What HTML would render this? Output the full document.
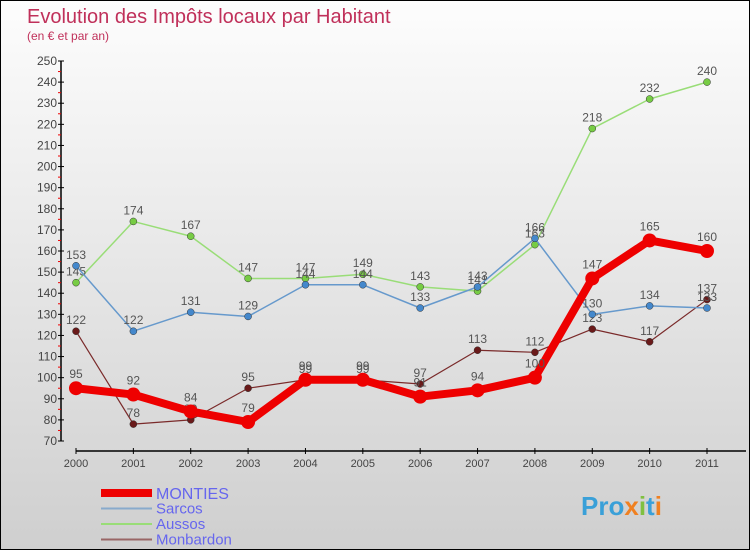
<!DOCTYPE html>
<html><head><meta charset="utf-8"><style>
body{margin:0;width:750px;height:550px;overflow:hidden;font-family:"Liberation Sans",sans-serif}
#wrap{position:relative;width:748px;height:548px;border:1px solid #000;background:linear-gradient(#fdfdfd,#cfcfcf)}
</style></head><body>
<div id="wrap">
<svg id="chart" width="748" height="548">
<text x="26" y="22" font-size="20" fill="#c0305a">Evolution des Impôts locaux par Habitant</text>
<text x="26" y="39" font-size="12" fill="#c0305a">(en € et par an)</text>
<g id="axes"></g><g id="series"></g>
<text x="580" y="514" font-size="26" font-weight="bold" fill="#3aa0d8">Pro<tspan fill="#f08020">x</tspan><tspan fill="#80c040">i</tspan>t<tspan fill="#f08020">i</tspan></text>
</svg>
</div>
<script>
const years=[2000,2001,2002,2003,2004,2005,2006,2007,2008,2009,2010,2011];
const monties=[95,92,84,79,99,99,91,94,100,147,165,160];
const sarcos=[153,122,131,129,144,144,133,143,166,130,134,133];
const aussos=[145,174,167,147,147,149,143,141,163,218,232,240];
const monbardon=[122,78,80,95,99,99,97,113,112,123,117,137];
const yTicks=[70,80,90,100,110,120,130,140,150,160,170,180,190,200,210,220,230,240,250];
const NS="http://www.w3.org/2000/svg";
const X=i=>75+i*(706-75)/11;
const Y=v=>440-(v-70)*380/180;
function mk(t,a,p){const e=document.createElementNS(NS,t);for(const k in a)e.setAttribute(k,a[k]);p.appendChild(e);return e;}
const ax=document.getElementById('axes');
let l=mk('line',{x1:60,y1:Y(250),x2:60,y2:Y(70),stroke:'#000','stroke-width':1.5},ax);


l=mk('line',{x1:75,y1:450,x2:745,y2:450,stroke:'#000','stroke-width':1.5},ax);


yTicks.forEach(v=>{
 mk('line',{x1:57,y1:Y(v),x2:63,y2:Y(v),stroke:'#000'},ax);
 if(v<250)mk('line',{x1:57,y1:Y(v+5),x2:60,y2:Y(v+5),stroke:'#e00'},ax);
 const t=mk('text',{x:56,y:Y(v)+4,'text-anchor':'end','font-size':12,fill:'#444'},ax);t.textContent=v;
 
 
});
years.forEach((y,i)=>{
 mk('line',{x1:X(i),y1:447,x2:X(i),y2:453,stroke:'#000'},ax);
 const t=mk('text',{x:X(i),y:466,'text-anchor':'middle','font-size':11,fill:'#444'},ax);t.textContent=y;
 
 
});
const sg=document.getElementById('series');
const defs=[
 {n:'monbardon',d:monbardon,c:'#7a2a2a',w:1.2,r:3.5,f:'#6a1a1a'},
 {n:'aussos',d:aussos,c:'#99dd77',w:1.5,r:3.5,f:'#77cc44'},
 {n:'sarcos',d:sarcos,c:'#6699cc',w:1.5,r:3.5,f:'#4488cc'},
 {n:'monties',d:monties,c:'#ee0000',w:8,r:7,f:'#ee0000'}];
defs.forEach(s=>{
 const g=mk('g',{},sg);
 
 
 const p=mk('polyline',{points:s.d.map((v,i)=>X(i)+','+Y(v)).join(' '),fill:'none',stroke:s.c,'stroke-width':s.w,'stroke-linejoin':'round'},g);
 
 
 s.d.forEach((v,i)=>{
  const c=mk('circle',{cx:X(i),cy:Y(v),r:s.r,fill:s.f,stroke:s.r>5?'none':'#333','stroke-width':0.5},g);
  
  
  const t=mk('text',{x:X(i),y:Y(v)-(s.r>5?10:7),'text-anchor':'middle','font-size':12,fill:'#555'},g);t.textContent=v;
  
  
 });
});
const leg=[['MONTIES','#ee0000',8],['Sarcos','#88aacc',2],['Aussos','#99dd77',2],['Monbardon','#996666',2]];
leg.forEach((e,i)=>{
 const y=492+i*15.5;
 const g=mk('g',{},sg);
 
 
 mk('line',{x1:100,y1:y,x2:151,y2:y,stroke:e[1],'stroke-width':e[2]},g);
 const t=mk('text',{x:155,y:y+(i==0?6:5),'font-size':i==0?16:15,fill:'#6666ee'},g);t.textContent=e[0];
});
</script>
</body></html>
